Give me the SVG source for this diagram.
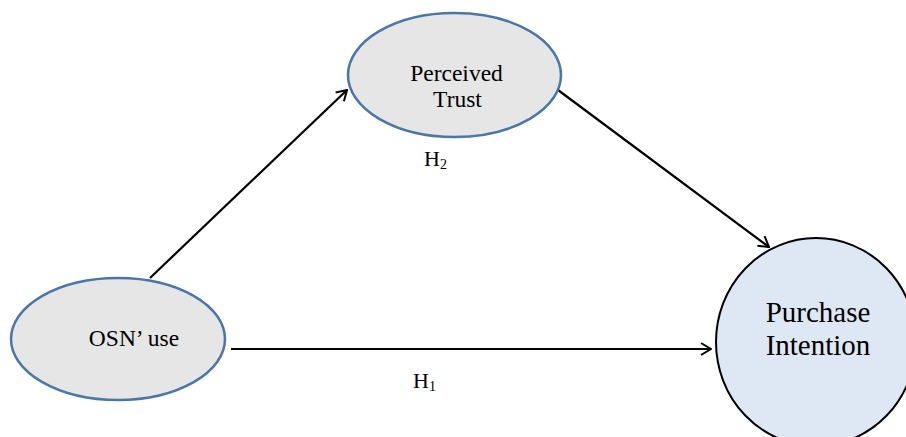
<svg xmlns="http://www.w3.org/2000/svg" width="906" height="437" viewBox="0 0 906 437">
  <style>
    .ell { fill: #e6e6e6; stroke: #4a77a8; stroke-width: 2.5; }
    .circ { fill: #dde8f4; stroke: #000000; stroke-width: 2; }
    .lbl { font-family: "Liberation Serif", "Times New Roman", serif; fill: #000000; text-anchor: middle; }
    .conn { stroke: #000000; stroke-width: 2.2; fill: none; marker-end: url(#arr); }
    .hyp { font-family: "Liberation Serif", "Times New Roman", serif; fill: #000000; font-size: 22px; }
  </style>
  <defs>
    <marker id="arr" viewBox="0 0 12 14" refX="11" refY="7" markerWidth="12" markerHeight="14" markerUnits="userSpaceOnUse" orient="auto">
      <path d="M1,1 L11,7 L1,13" fill="none" stroke="#000000" stroke-width="2"/>
    </marker>
  </defs>
  <rect width="906" height="437" fill="#ffffff"/>

  <g id="connectors">
    <line class="conn" x1="150" y1="278" x2="347" y2="90"/>
    <line class="conn" x1="558" y1="90" x2="769" y2="247"/>
    <line class="conn" x1="231" y1="349" x2="711" y2="349"/>
  </g>

  <g id="node-trust">
    <ellipse class="ell" cx="454.5" cy="75" rx="106.5" ry="62"/>
    <text class="lbl" x="456.5" y="81" font-size="23.5">Perceived</text>
    <text class="lbl" x="457.5" y="107" font-size="23.5">Trust</text>
  </g>

  <g id="node-osn">
    <ellipse class="ell" cx="118" cy="339" rx="107" ry="61"/>
    <text class="lbl" x="134" y="346" font-size="23.5">OSN’ use</text>
  </g>

  <g id="node-purchase">
    <ellipse class="circ" cx="816" cy="342" rx="100" ry="104"/>
    <text class="lbl" x="818" y="322" font-size="29">Purchase</text>
    <text class="lbl" x="818" y="355" font-size="29">Intention</text>
  </g>

  <g id="labels">
    <text class="hyp" x="424" y="166">H<tspan font-size="14" dy="3">2</tspan></text>
    <text class="hyp" x="413" y="388">H<tspan font-size="14" dy="3">1</tspan></text>
  </g>
</svg>
